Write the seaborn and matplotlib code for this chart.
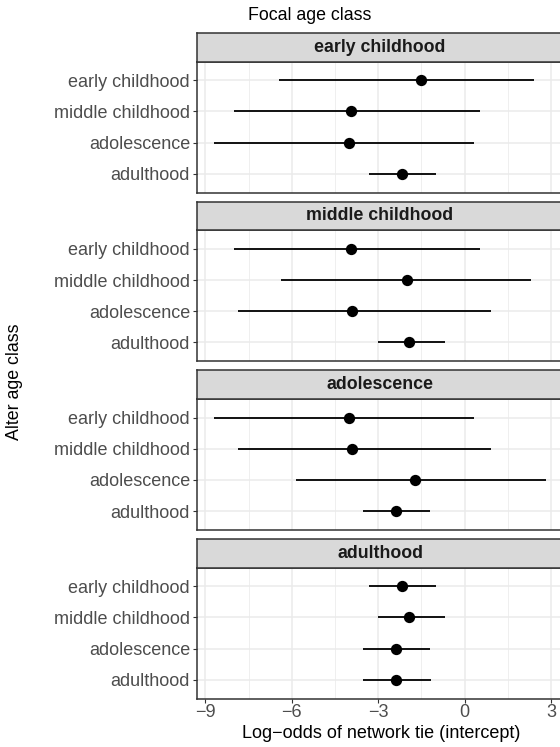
import numpy as np
import pandas as pd
import matplotlib
matplotlib.use("Agg")
import matplotlib.pyplot as plt
import seaborn as sns

# ---- data ----
focal_classes = ["early childhood", "middle childhood", "adolescence", "adulthood"]
alter_classes = ["early childhood", "middle childhood", "adolescence", "adulthood"]

est_early = [-1.52, -3.96, -4.03, -2.18]
low_early = [-6.43, -8.01, -8.71, -3.32]
high_early = [2.39, 0.54, 0.31, -1.01]

est_middle = [-3.96, -2.01, -3.92, -1.92]
low_middle = [-8.01, -6.39, -7.88, -3.01]
high_middle = [0.54, 2.29, 0.91, -0.69]

est_adol = [-4.03, -3.92, -1.73, -2.40]
low_adol = [-8.69, -7.88, -5.86, -3.52]
high_adol = [0.31, 0.91, 2.83, -1.22]

est_adult = [-2.19, -1.92, -2.40, -2.40]
low_adult = [-3.32, -3.01, -3.53, -3.52]
high_adult = [-1.01, -0.69, -1.22, -1.17]

x_ticks = [-9, -6, -3, 0, 3]
x_tick_labels = ["\u22129", "\u22126", "\u22123", "0", "3"]
x_minor = [-7.5, -4.5, -1.5, 1.5]

rows = []
for focal, e, lo, hi in zip(focal_classes,
                            [est_early, est_middle, est_adol, est_adult],
                            [low_early, low_middle, low_adol, low_adult],
                            [high_early, high_middle, high_adol, high_adult]):
    for j, alter in enumerate(alter_classes):
        rows.append(dict(focal=focal, alter=alter, pos=j, est=e[j], low=lo[j], high=hi[j]))
df = pd.DataFrame(rows)

# ---- figure ----
W, H = 560, 747
plt.rcParams["font.family"] = ["Liberation Sans", "DejaVu Sans"]
fig = plt.figure(figsize=(W / 100, H / 100), dpi=100)

left_px, right_px = 197, 563
strip_h = 28.5
panel_h = 131.0
period = 168.67
top0 = 33.0

for i, focal in enumerate(focal_classes):
    strip_top = top0 + i * period
    p_top = strip_top + strip_h
    p_bot = p_top + panel_h
    ax = fig.add_axes([left_px / W, 1 - p_bot / H, (right_px - left_px) / W, panel_h / H])
    sub = df[df.focal == focal]

    ax.set_facecolor("white")
    ax.set_xlim(-9.29, 3.41)
    ax.set_ylim(3.6, -0.6)
    ax.set_xticks(x_ticks)
    ax.set_xticks(x_minor, minor=True)
    ax.set_yticks(range(len(alter_classes)))
    ax.set_yticklabels(alter_classes)
    ax.grid(True, which="major", color="#EBEBEB", linewidth=1.1, zorder=0)
    ax.grid(True, which="minor", axis="x", color="#EBEBEB", linewidth=0.55, zorder=0)
    ax.set_axisbelow(True)

    ax.hlines(sub["pos"], sub["low"], sub["high"], color="black", linewidth=1.3, zorder=2)
    sns.scatterplot(data=sub, x="est", y="pos", ax=ax, color="black", s=66,
                    edgecolor="black", linewidth=0, zorder=3, legend=False)

    for sp in ax.spines.values():
        sp.set_color("#333333")
        sp.set_linewidth(1.1)
    ax.tick_params(axis="y", which="major", length=3, width=0.8, color="#333333",
                   labelsize=13, labelcolor="#4D4D4D", pad=2)
    ax.tick_params(axis="x", which="minor", length=0)
    ax.set_xlabel("")
    ax.set_ylabel("")
    if i < 3:
        ax.tick_params(axis="x", which="major", length=0, labelbottom=False)
    else:
        ax.tick_params(axis="x", which="major", length=3, width=0.8, color="#333333",
                       labelsize=13, labelcolor="#4D4D4D", pad=1)
        ax.set_xticklabels(x_tick_labels)

    # strip
    sax = fig.add_axes([left_px / W, 1 - p_top / H, (right_px - left_px) / W, strip_h / H])
    sax.set_xlim(0, 1)
    sax.set_ylim(0, 1)
    sax.set_facecolor("#D9D9D9")
    for sp in sax.spines.values():
        sp.set_color("#333333")
        sp.set_linewidth(1.1)
    sax.set_xticks([])
    sax.set_yticks([])
    sax.text(0.5 - 0.0, 0.5, focal, ha="center", va="center", fontsize=12.8,
             fontweight="bold", color="#1A1A1A", transform=sax.transAxes)

fig.text(248 / W, 1 - 15 / H, "Focal age class", ha="left", va="center", fontsize=12.8)
fig.text(15 / W, 1 - 382 / H, "Alter age class", ha="center", va="center",
         rotation=90, fontsize=12.8)
fig.text(381 / W, 1 - 734 / H, "Log\u2212odds of network tie (intercept)",
         ha="center", va="center", fontsize=13)

fig.savefig("out.png", dpi=100)
